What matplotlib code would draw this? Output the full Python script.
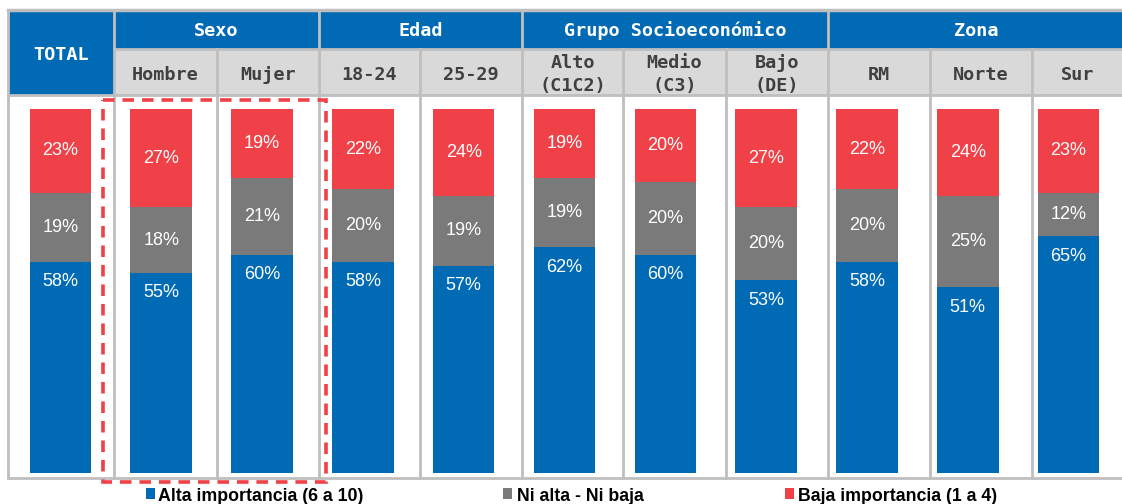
import matplotlib
matplotlib.use("Agg")
import matplotlib.pyplot as plt
from matplotlib.patches import Rectangle
import numpy as np

categories = ["TOTAL", "Hombre", "Mujer", "18-24", "25-29", "Alto\n(C1C2)", "Medio\n(C3)",
              "Bajo\n(DE)", "RM", "Norte", "Sur"]
groups = ["Sexo", "Edad", "Grupo Socioeconómico", "Zona"]
group_spans = [(1, 2), (3, 4), (5, 7), (8, 10)]
alta = [58, 55, 60, 58, 57, 62, 60, 53, 58, 51, 65]
ni = [19, 18, 21, 20, 19, 19, 20, 20, 20, 25, 12]
baja = [23, 27, 19, 22, 24, 19, 20, 27, 22, 24, 23]
legend_labels = ["Alta importancia (6 a 10)", "Ni alta - Ni baja", "Baja importancia (1 a 4)"]

BLUE = "#006AB5"
GRAY = "#7A7A7A"
RED = "#EF4147"
HDR_GRAY = "#D9D9D9"
LINE = "#BFBFBF"

W, H = 1122, 504
fig = plt.figure(figsize=(W / 100, H / 100), dpi=100)

bg = fig.add_axes([0, 0, 1, 1])
bg.set_xlim(0, W)
bg.set_ylim(H, 0)
bg.axis("off")

bounds = [8, 114, 217, 319, 420, 522, 623, 726, 828, 930, 1032, 1124]
top, mid, hdr_bot, bot = 11, 49, 95, 478
HFONT = dict(fontsize=13.3, fontweight="bold", family="DejaVu Sans Mono")

bg.add_patch(Rectangle((bounds[0], top), bounds[1] - bounds[0], hdr_bot - top, color=BLUE, lw=0))
bg.text((bounds[0] + bounds[1]) / 2, 55, "TOTAL", color="white",
        ha="center", va="center", **HFONT)
for g, (a, b) in zip(groups, group_spans):
    x0, x1 = bounds[a], bounds[b + 1]
    bg.add_patch(Rectangle((x0, top), x1 - x0, mid - top, color=BLUE, lw=0))
    bg.text((x0 + x1) / 2, 31, g, color="white", ha="center", va="center", **HFONT)
for i in range(1, len(categories)):
    x0, x1 = bounds[i], bounds[i + 1]
    bg.add_patch(Rectangle((x0, mid), x1 - x0, hdr_bot - mid, color=HDR_GRAY, lw=0))
    bg.text((x0 + x1) / 2, 74.5, categories[i], color="#404040", ha="center",
            va="center", linespacing=1.35, **HFONT)
bg.plot([bounds[0], W], [top - 1, top - 1], color=LINE, lw=2.5)
bg.plot([bounds[0], W], [bot, bot], color=LINE, lw=2)
bg.plot([bounds[1], W], [mid, mid], color=LINE, lw=2)
bg.plot([bounds[0], W], [hdr_bot, hdr_bot], color=LINE, lw=2)
for i, xb in enumerate(bounds[:-1]):
    if i == 0 or any(xb == bounds[a] for a, _ in group_spans):
        bg.plot([xb, xb], [top - 1, bot], color=LINE, lw=2)
    else:
        bg.plot([xb, xb], [mid, bot], color=LINE, lw=2)

x_left, x_right = 10, 1119
y_top, y_bot = 109, 473
ax = fig.add_axes([x_left / W, 1 - y_bot / H, (x_right - x_left) / W, (y_bot - y_top) / H])
ax.set_xlim(-0.5, 10.5)
ax.set_ylim(0, 100)
ax.axis("off")
ax.patch.set_alpha(0)
x = np.arange(len(categories))
a = np.array(alta)
n = np.array(ni)
b = np.array(baja)
bw = 0.61
ax.bar(x, a, bw, color=BLUE, lw=0)
ax.bar(x, n, bw, bottom=a, color=GRAY, lw=0)
ax.bar(x, b, bw, bottom=a + n, color=RED, lw=0)
LFONT = dict(color="white", ha="center", va="center", fontsize=13, family="Liberation Sans")
for i in range(len(x)):
    ax.text(x[i], a[i] - 5.5, f"{a[i]}%", **LFONT)
    ax.text(x[i], a[i] + n[i] / 2, f"{n[i]}%", **LFONT)
    ax.text(x[i], a[i] + n[i] + b[i] / 2, f"{b[i]}%", **LFONT)

bg.add_patch(Rectangle((103, 100), 223, 382, fill=False, ec="#EF4147", lw=2.6,
                       ls=(0, (3.2, 2.2)), zorder=5))

leg_colors = [BLUE, GRAY, RED]
leg_sq = [146, 503, 785]
leg_tx = [158, 517, 798]
for sx, tx, c, lab in zip(leg_sq, leg_tx, leg_colors, legend_labels):
    bg.add_patch(Rectangle((sx, 488), 9, 11, color=c, lw=0))
    bg.text(tx, 501, lab, ha="left", va="baseline", fontsize=12.8, fontweight="bold",
            family="Liberation Sans", color="black")

fig.savefig("out.png", dpi=100)
